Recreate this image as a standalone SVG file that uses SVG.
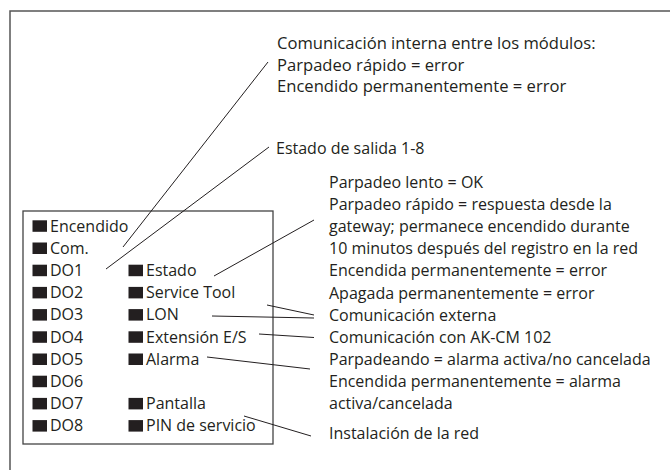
<svg xmlns="http://www.w3.org/2000/svg" width="670" height="470" viewBox="0 0 670 470">
<style>
text{font-family:"Open Sans","Noto Sans","Liberation Sans",sans-serif;font-size:16px;fill:#231f20}
.big{font-size:16.6px}
.sq{fill:#231f20}
.ln{stroke:#231f20;stroke-width:1;fill:none}
</style>
<rect x="0" y="0" width="670" height="470" fill="#fff"/>
<path d="M10,480 V11 H680" fill="none" stroke="#555" stroke-width="1.5"/>
<g id="module">
<rect x="23" y="211" width="250" height="233" fill="none" stroke="#444" stroke-width="1.3"/>
<g id="led-encendido"><rect class="sq" x="32.5" y="220.3" width="14.5" height="11.5"/><text x="50" y="231.5">Encendido</text></g>
<g id="led-com"><rect class="sq" x="32.5" y="242.5" width="14.5" height="11.5"/><text x="50" y="253.7">Com.</text></g>
<g id="led-do1"><rect class="sq" x="32.5" y="264.7" width="14.5" height="11.5"/><text x="50" y="275.9">DO1</text></g>
<g id="led-do2"><rect class="sq" x="32.5" y="286.9" width="14.5" height="11.5"/><text x="50" y="298.1">DO2</text></g>
<g id="led-do3"><rect class="sq" x="32.5" y="309.1" width="14.5" height="11.5"/><text x="50" y="320.3">DO3</text></g>
<g id="led-do4"><rect class="sq" x="32.5" y="331.3" width="14.5" height="11.5"/><text x="50" y="342.5">DO4</text></g>
<g id="led-do5"><rect class="sq" x="32.5" y="353.5" width="14.5" height="11.5"/><text x="50" y="364.7">DO5</text></g>
<g id="led-do6"><rect class="sq" x="32.5" y="375.7" width="14.5" height="11.5"/><text x="50" y="386.9">DO6</text></g>
<g id="led-do7"><rect class="sq" x="32.5" y="397.9" width="14.5" height="11.5"/><text x="50" y="409.1">DO7</text></g>
<g id="led-do8"><rect class="sq" x="32.5" y="420.1" width="14.5" height="11.5"/><text x="50" y="431.3">DO8</text></g>
<g id="led-estado"><rect class="sq" x="128.5" y="264.7" width="14.5" height="11.5"/><text x="146" y="275.9">Estado</text></g>
<g id="led-service"><rect class="sq" x="128.5" y="286.9" width="14.5" height="11.5"/><text x="146" y="298.1">Service Tool</text></g>
<g id="led-lon"><rect class="sq" x="128.5" y="309.1" width="14.5" height="11.5"/><text x="146" y="320.3">LON</text></g>
<g id="led-ext"><rect class="sq" x="128.5" y="331.3" width="14.5" height="11.5"/><text x="146" y="342.5">Extensión E/S</text></g>
<g id="led-alarma"><rect class="sq" x="128.5" y="353.5" width="14.5" height="11.5"/><text x="146" y="364.7">Alarma</text></g>
<g id="led-pantalla"><rect class="sq" x="128.5" y="397.9" width="14.5" height="11.5"/><text x="146" y="409.1">Pantalla</text></g>
<g id="led-pin"><rect class="sq" x="128.5" y="420.1" width="14.5" height="11.5"/><text x="146" y="431.3">PIN de servicio</text></g>
</g>
<g id="connectors">
<line class="ln" x1="268" y1="62" x2="123" y2="247"/>
<line class="ln" x1="269" y1="147" x2="106" y2="269"/>
<line class="ln" x1="214" y1="276" x2="314" y2="220"/>
<line class="ln" x1="267" y1="305" x2="314" y2="315"/>
<line class="ln" x1="212" y1="316" x2="314" y2="318"/>
<line class="ln" x1="259" y1="334" x2="314" y2="337.5"/>
<line class="ln" x1="207" y1="357" x2="310" y2="369"/>
<line class="ln" x1="244" y1="416" x2="311" y2="436"/>
</g>
<g id="note-com">
<text class="big" x="277" y="49">Comunicación interna entre los módulos:</text>
<text class="big" x="277" y="70.5">Parpadeo rápido = error</text>
<text class="big" x="277" y="92">Encendido permanentemente = error</text>
</g>
<g id="note-salida"><text x="276" y="154">Estado de salida 1-8</text></g>
<g id="note-estado">
<text x="329" y="188">Parpadeo lento = OK</text>
<text x="329" y="210.1">Parpadeo rápido = respuesta desde la</text>
<text x="329" y="232.2">gateway; permanece encendido durante</text>
<text x="329" y="254.3">10 minutos después del registro en la red</text>
<text x="329" y="276.4">Encendida permanentemente = error</text>
<text x="329" y="298.5">Apagada permanentemente = error</text>
</g>
<g id="note-ext"><text x="329" y="320.6">Comunicación externa</text></g>
<g id="note-akcm"><text x="329" y="342.7">Comunicación con AK-CM 102</text></g>
<g id="note-alarma">
<text x="329" y="364.8">Parpadeando = alarma activa/no cancelada</text>
<text x="329" y="386.9">Encendida permanentemente = alarma</text>
<text x="329" y="409">activa/cancelada</text>
</g>
<g id="note-red"><text x="329" y="439">Instalación de la red</text></g>
</svg>
